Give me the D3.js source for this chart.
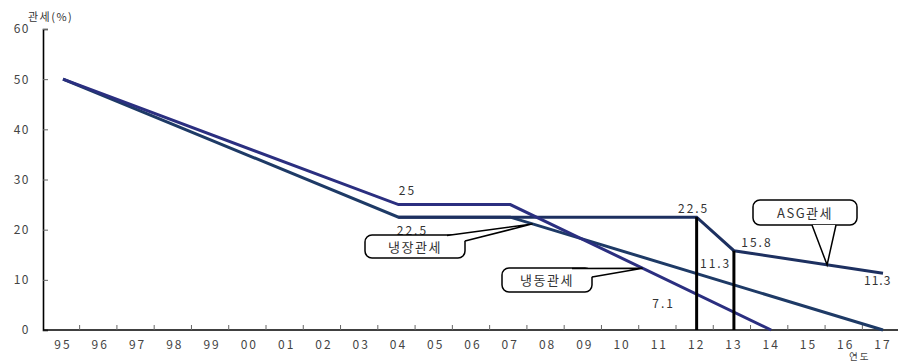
<html>
<head>
<script src="https://d3js.org/d3.v7.min.js"></script>
<style>
  body { margin: 0; background: #fff; }
  text { font-family: "Noto Sans CJK KR", "DejaVu Sans", sans-serif; }
</style>
</head>
<body>
<svg id="vis"></svg>
<script>
const W = 898, H = 362;

// data
const years = ['95','96','97','98','99','00','01','02','03','04','05','06',
               '07','08','09','10','11','12','13','14','15','16','17'];
const yTicks = [0, 10, 20, 30, 40, 50, 60];
const frozen  = [['95', 50], ['04', 25], ['07', 25], ['14', 0]];      // 냉동관세
const chilled = [['95', 50], ['04', 22.5], ['07', 22.5], ['17', 0]];  // 냉장관세
const asg     = [['04', 22.5], ['12', 22.5], ['13', 15.8], ['17', 11.3]]; // ASG관세
const markers = [['12', 22.5], ['13', 15.8]];
const valueLabels = [
  ['04', 25, '25'], ['04', 22.5, '22.5'], ['12', 22.5, '22.5'], ['13', 15.8, '15.8'],
  ['12', 11.3, '11.3'], ['12', 7.1, '7.1'], ['17', 11.3, '11.3']
];

let svg = d3.select('#vis').attr('width', W).attr('height', H);

let x = d3.scalePoint().domain(years).range([63, 883]);
let y = d3.scaleLinear().domain([0, 60]).range([330, 29]);
const step = x.step();

// y axis
let yAxis = svg.append('g')
  .attr('transform', 'translate(43,0)')
  .call(d3.axisLeft(y).tickValues(yTicks).tickSize(-5).tickPadding(13));
yAxis.select('.domain').attr('stroke', '#000').attr('stroke-width', 1.6);
yAxis.selectAll('.tick line').attr('stroke', '#666');
yAxis.selectAll('.tick text').attr('font-size', 12).attr('fill', '#444')
  .attr('letter-spacing', 1.5);

// x axis
svg.append('line')
  .attr('x1', 43).attr('x2', W).attr('y1', y(0)).attr('y2', y(0))
  .attr('stroke', '#000').attr('stroke-width', 1.6);
svg.append('g').selectAll('line').data(years.slice(0, -1)).join('line')
  .attr('x1', d => x(d) + step / 2 - 2).attr('x2', d => x(d) + step / 2 - 2)
  .attr('y1', y(0)).attr('y2', y(0) - 5)
  .attr('stroke', '#666');
svg.append('g').selectAll('text').data(years).join('text')
  .attr('x', d => x(d)).attr('y', y(0) + 19)
  .attr('text-anchor', 'middle').attr('font-size', 12)
  .attr('letter-spacing', 2).attr('fill', '#444')
  .text(d => d);

svg.append('text').attr('x', 28).attr('y', 21).attr('font-size', 11)
  .attr('letter-spacing', 1.5).attr('fill', '#333').text('관세(%)');
svg.append('text').attr('x', 849).attr('y', 360).attr('font-size', 9.5)
  .attr('letter-spacing', 2).attr('fill', '#444').text('연도');

// lines
let line = d3.line().x(d => x(d[0])).y(d => y(d[1]));
svg.append('path').datum(chilled).attr('d', line)
  .attr('fill', 'none').attr('stroke', '#1e3a66').attr('stroke-width', 3);
svg.append('path').datum(asg).attr('d', line)
  .attr('fill', 'none').attr('stroke', '#1d3060').attr('stroke-width', 3);
svg.append('path').datum(frozen).attr('d', line)
  .attr('fill', 'none').attr('stroke', '#2b2f80').attr('stroke-width', 3);

svg.append('g').selectAll('line').data(markers).join('line')
  .attr('x1', d => x(d[0])).attr('x2', d => x(d[0]))
  .attr('y1', y(0)).attr('y2', d => y(d[1]))
  .attr('stroke', '#000').attr('stroke-width', 3);

// value labels
const offs = [[9, -10], [14, 18], [-3, -4], [23, -4], [19, -5], [-33, 14], [-19, 12]];
svg.append('g').selectAll('text').data(valueLabels).join('text')
  .attr('x', (d, i) => x(d[0]) + offs[i][0])
  .attr('y', (d, i) => y(d[1]) + offs[i][1])
  .attr('text-anchor', (d, i) => i == 6 ? 'start' : 'middle')
  .attr('font-size', 12).attr('letter-spacing', (d, i) => i == 6 ? 1 : 2)
  .attr('fill', '#333')
  .text(d => d[2]);

// interpolate value on a series at a fractional year index
function at(series, pos) {
  let xs = series.map(d => years.indexOf(d[0]));
  let vs = series.map(d => d[1]);
  let v = d3.scaleLinear().domain(xs).range(vs)(pos);
  return [x.range()[0] + pos * step, y(v)];
}

function callout(bx, by, bw, bh, b1, b2, tip, label) {
  let g = svg.append('g');
  g.append('rect').attr('x', bx).attr('y', by).attr('width', bw).attr('height', bh)
    .attr('rx', 7).attr('fill', '#fff').attr('stroke', '#000').attr('stroke-width', 1.5);
  g.append('path').attr('d', 'M' + b1 + 'L' + tip + 'L' + b2 + 'Z')
    .attr('fill', '#fff').attr('stroke', 'none');
  g.append('path').attr('d', 'M' + b1 + 'L' + tip + 'L' + b2)
    .attr('fill', 'none').attr('stroke', '#000').attr('stroke-width', 1.5);
  g.append('text').attr('x', bx + bw / 2).attr('y', by + bh / 2 + 5)
    .attr('text-anchor', 'middle').attr('font-size', 13).attr('letter-spacing', 1.5)
    .attr('fill', '#333').text(label);
}

callout(365, 235, 100, 23, [447, 235.5], [465, 241], at(chilled, 12.6), '냉장관세');
callout(502, 268, 90, 24, [572, 268.5], [592, 277], at(frozen, 15.55), '냉동관세');
callout(753, 200, 104, 25, [812, 225], [836, 225], at(asg, 20.5), 'ASG관세');
</script>
</body>
</html>
